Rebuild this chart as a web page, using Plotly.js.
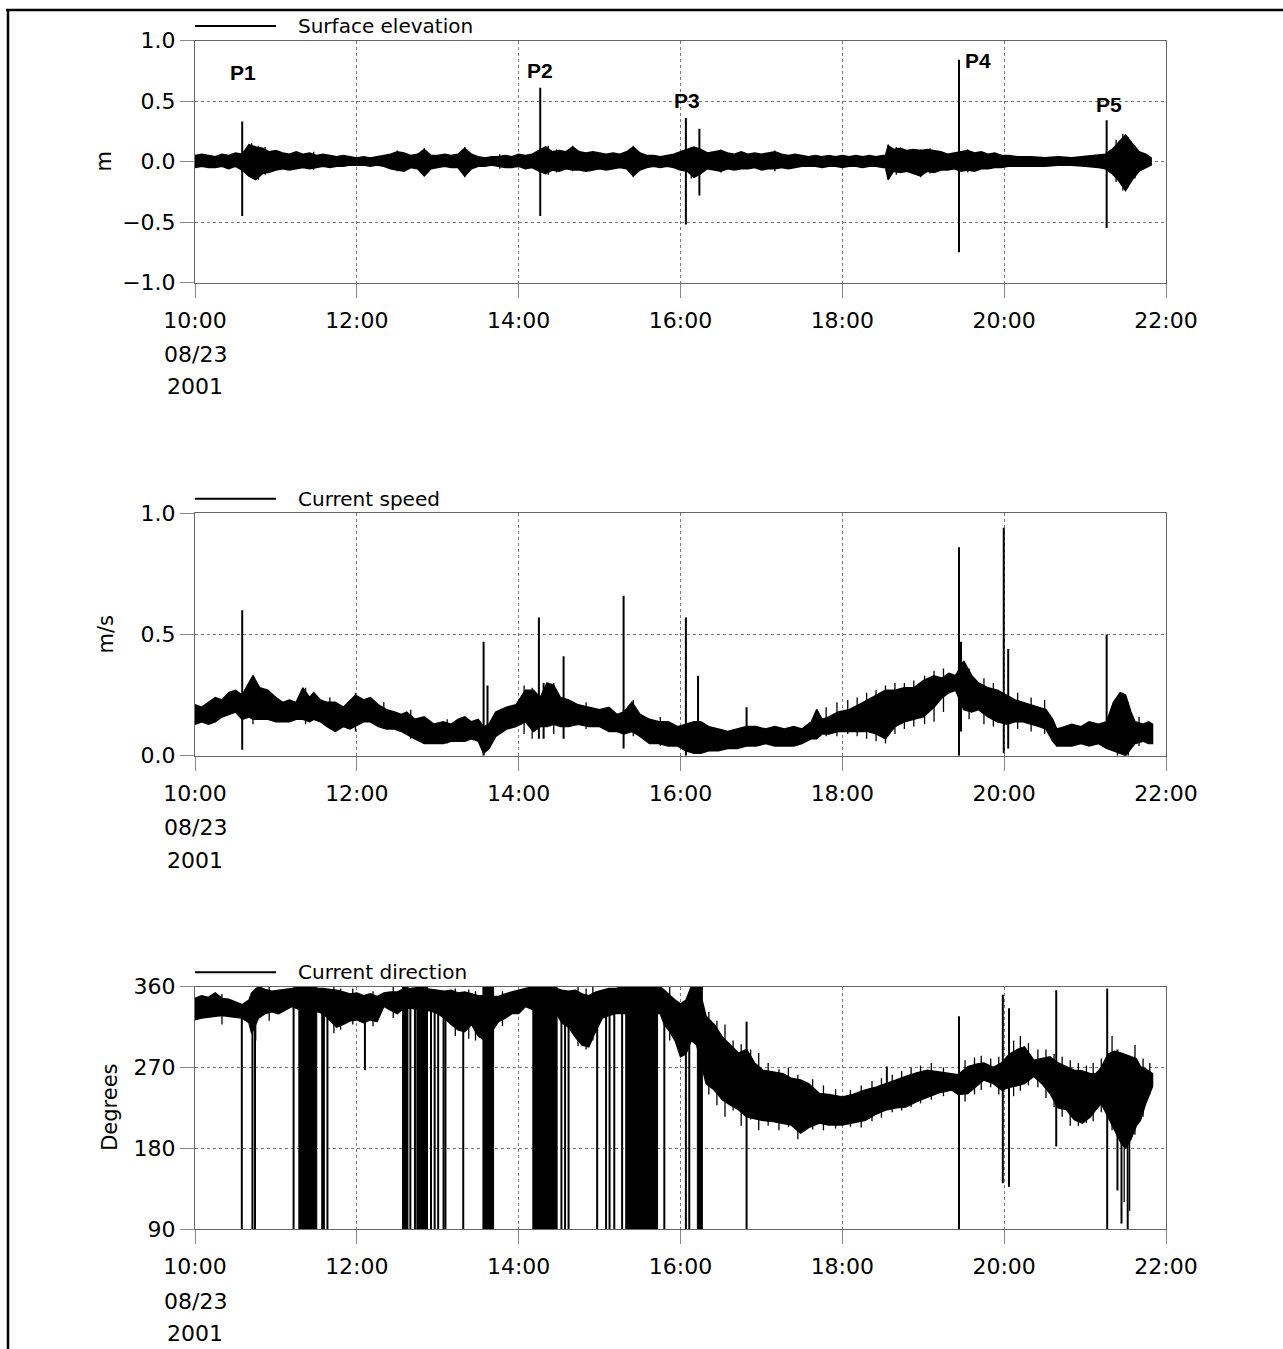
<!DOCTYPE html>
<html><head><meta charset="utf-8">
<script src="https://cdn.plot.ly/plotly-3.0.1.min.js"></script>
<style>html,body{margin:0;padding:0;background:#fff}</style>
</head><body><div id="chart" style="width:1283px;height:1349px"></div>
<script>
// ---- time axis (minutes after 10:00 on 08/23/2001) ----
const tickMinutes = [0, 120, 240, 360, 480, 600, 720];
const tickLabels = ['10:00', '12:00', '14:00', '16:00', '18:00', '20:00', '22:00'];
const dateLine = '08/23';
const yearLine = '2001';

// ---- Surface elevation (m): envelope of the noisy record ----
const elevT = [0,5,10,15,20,25,30,35,40,45, 50,55,60,65,70,75,80,85,90,95,
 100,105,110,115,120,125,130,135,140,145, 150,155,160,165,170,175,180,185,190,195,
 200,205,210,215,220,225,230,235,240,245, 250,255,260,265,270,275,280,285,290,295,
 300,305,310,315,320,325,330,335,340,345, 350,355,360,365,370,375,380,385,390,395,
 400,405,410,415,420,425,430,435,440,445, 450,455,460,465,470,475,480,485,490,495,
 500,505,510,512,514,518,523,528,533,538, 543,548,553,558,563,568,573,578,583,588,
 593,598,603,610,620,630,640,650,660,670, 675,680,685,690,695,700,705,709];
const elevHi = [.05,.06,.05,.04,.06,.05,.07,.06,.14,.12, .11,.08,.09,.07,.06,.08,.06,.07,.05,.06,
 .05,.04,.05,.04,.03,.04,.03,.04,.05,.06, .08,.07,.05,.06,.10,.05,.05,.06,.05,.06,
 .11,.06,.04,.03,.04,.04,.05,.04,.06,.05, .06,.09,.12,.08,.09,.08,.12,.08,.07,.08,
 .07,.06,.07,.06,.08,.12,.07,.05,.05,.04, .05,.06,.08,.10,.12,.10,.07,.08,.09,.07,
 .06,.08,.06,.07,.06,.07,.08,.06,.05,.06, .05,.04,.05,.04,.05,.04,.05,.04,.05,.04,
 .05,.04,.05,.05,.13,.10,.11,.09,.10,.09, .10,.09,.08,.06,.07,.08,.09,.07,.08,.06,
 .07,.05,.05,.04,.04,.03,.04,.03,.04,.05, .06,.10,.16,.22,.15,.08,.06,.03];
const elevLo = [-.05,-.04,-.05,-.05,-.04,-.06,-.04,-.07,-.12,-.15, -.10,-.09,-.07,-.06,-.07,-.06,-.05,-.06,-.05,-.04,
 -.05,-.04,-.04,-.03,-.03,-.03,-.04,-.03,-.04,-.06, -.07,-.08,-.05,-.06,-.12,-.06,-.05,-.04,-.05,-.05,
 -.12,-.06,-.04,-.04,-.03,-.04,-.05,-.05,-.04,-.06, -.05,-.08,-.10,-.07,-.08,-.06,-.07,-.07,-.08,-.07,
 -.06,-.07,-.06,-.05,-.06,-.12,-.07,-.05,-.04,-.05, -.04,-.05,-.07,-.08,-.13,-.10,-.06,-.07,-.08,-.06,
 -.07,-.06,-.06,-.05,-.07,-.06,-.06,-.05,-.06,-.05, -.04,-.04,-.04,-.05,-.04,-.04,-.05,-.04,-.04,-.05,
 -.04,-.04,-.05,-.05,-.15,-.08,-.09,-.08,-.10,-.12, -.08,-.09,-.07,-.07,-.06,-.08,-.07,-.08,-.06,-.06,
 -.05,-.05,-.04,-.04,-.04,-.04,-.03,-.03,-.04,-.05, -.06,-.10,-.16,-.24,-.15,-.08,-.05,-.03];
const elevSpikeT = [35, 256, 364, 374, 566.5, 676];
const elevSpikeLo = [-0.45, -0.45, -0.52, -0.28, -0.75, -0.55];
const elevSpikeHi = [0.33, 0.61, 0.36, 0.27, 0.84, 0.34];
// short noise excursions poking out of the band
const elevNoiseT = [42, 47, 52, 88, 150, 170, 200, 226, 262, 268, 280, 325, 368, 390, 430, 514, 520, 538, 545, 573, 683, 688, 692, 697];
const elevNoiseLo = [-.13,-.15,-.11,-.07,-.08,-.12,-.13,-.06,-.11,-.09,-.08,-.13,-.14,-.09,-.08,-.15,-.11,-.13,-.10,-.09,-.17,-.24,-.21,-.14];
const elevNoiseHi = [.15,.13,.12,.08,.09,.11,.12,.06,.13,.10,.13,.13,.12,.10,.09,.14,.12,.10,.11,.10,.18,.23,.20,.13];
const peakNames = ['P1', 'P2', 'P3', 'P4', 'P5'];
const peakT = [35.6, 255.5, 364.8, 580.6, 677.4];
const peakY = [0.734, 0.751, 0.508, 0.833, 0.475];

// ---- Current speed (m/s) ----
const speedT = [0,5,10,15,20,25,30,35,40,43, 48,54,60,65,70,75,80,85,88,93,
 98,104,110,115,119,125,130,136,142,148, 153,157,163,170,177,184,190,195,200,205,
 210,214,218,223,231,238,245,251,256,261, 266,271,277,284,292,300,307,313,318,324,
 330,337,344,351,358,364,370,375,381,388, 395,402,409,416,423,430,437,444,450,457,
 461,465,470,477,485,492,499,505,512,519, 526,533,540,548,554,559,564,570,576,581,
 588,595,602,608,614,620,626,631,636,639, 645,650,657,663,670,676,681,686,690,694,
 697,703,707,710];
const speedHi = [.21,.20,.22,.24,.23,.26,.27,.25,.30,.33, .28,.27,.24,.22,.23,.22,.28,.24,.26,.23,
 .22,.22,.20,.23,.25,.23,.24,.21,.19,.18, .17,.18,.15,.16,.13,.14,.13,.15,.16,.14,
 .15,.12,.13,.18,.20,.21,.27,.27,.24,.30, .29,.24,.23,.21,.20,.19,.20,.17,.18,.22,
 .17,.15,.14,.14,.12,.13,.14,.14,.12,.11, .10,.11,.12,.12,.11,.12,.11,.12,.11,.14,
 .19,.15,.16,.18,.19,.21,.23,.25,.27,.27, .28,.28,.31,.33,.32,.34,.33,.39,.33,.30,
 .28,.27,.25,.23,.22,.21,.20,.19,.15,.11, .12,.13,.12,.14,.13,.14,.22,.26,.25,.18,
 .14,.13,.14,.13];
const speedLo = [.13,.14,.13,.14,.16,.17,.18,.15,.16,.15, .15,.15,.14,.14,.14,.15,.15,.14,.15,.14,
 .12,.10,.12,.11,.12,.14,.14,.12,.11,.11, .10,.09,.07,.05,.05,.05,.06,.06,.06,.07,
 .06,.01,.03,.08,.11,.12,.14,.10,.12,.12, .13,.12,.12,.13,.12,.12,.10,.10,.09,.10,
 .08,.05,.05,.04,.04,.02,.01,.01,.02,.02, .03,.03,.04,.04,.05,.04,.04,.04,.05,.07,
 .07,.09,.09,.10,.10,.10,.10,.09,.07,.12, .14,.15,.16,.20,.24,.26,.27,.19,.18,.19,
 .16,.14,.13,.14,.14,.13,.12,.11,.06,.04, .04,.04,.05,.04,.05,.03,.02,.01,.00,.03,
 .05,.06,.05,.05];
const speedSpikeT = [35, 214, 216.9, 255, 258.5, 273.3, 317.8, 364, 373, 409, 566.5, 568, 599.7, 603, 676];
const speedSpikeLo = [0.025, 0.00, 0.05, 0.07, 0.07, 0.07, 0.03, 0.00, 0.03, 0.06, 0.00, 0.10, 0.01, 0.03, 0.04];
const speedSpikeHi = [0.60, 0.47, 0.29, 0.57, 0.30, 0.41, 0.66, 0.57, 0.33, 0.20, 0.86, 0.47, 0.94, 0.44, 0.50];
const speedNoiseT = [43, 82, 100, 119, 140, 160, 187, 244, 250, 266, 290, 325, 345, 461,
 468, 476, 484, 491, 498, 505, 512, 519, 526, 533, 541, 548, 555, 574, 585, 592, 610, 620, 630,
 684, 688, 692, 700];
const speedNoiseLo = [.13,.13,.12,.10,.11,.07,.05,.09,.07,.09,.11,.08,.04,.07,
 .08,.08,.09,.08,.07,.06,.05,.09,.11,.12,.13,.14,.18,.15,.13,.12,.11,.10,.09,
 .00,.01,.00,.04];
const speedNoiseHi = [.33,.28,.24,.26,.22,.19,.15,.29,.28,.30,.22,.23,.16,.19,
 .20,.22,.23,.24,.26,.27,.29,.30,.30,.31,.33,.35,.36,.36,.32,.30,.26,.24,.23,
 .24,.26,.22,.16];

// ---- Current direction (degrees) ----
const dirT = [0,5,10,15,20,25,30,35,40,42, 47,52,57,62,67,72,77,84,91,95,
 100,105,110,115,120,125,130,135,140,145, 150,155,160,165,170,175,180,185,190,195,
 200,205,210,215,220,225,230,235,240,245, 250,260,268,272,277,282,287,292,297,302,
 307,312,317,330,345,348,352,356,360,364, 368,372,376,379,385,391,397,403,409,415,
 421,428,436,442,449,455,463,470,480,488, 497,505,513,520,527,535,543,552,561,566,
 573,580,585,592,598,604,610,615,622,628, 634,640,646,652,658,664,668,672,677,682,
 687,690,694,698,701,705,710];
const dirHi = [347,350,348,353,347,346,343,340,345,353, 360,357,355,356,357,358,360,360,358,358,
 357,356,354,352,353,350,352,349,353,354, 354,358,358,359,358,357,356,355,356,353,
 354,352,350,350,349,349,352,354,356,358, 360,360,358,356,355,356,352,350,354,356,
 358,358,360,360,360,356,350,345,341,345, 360,360,345,327,318,304,295,286,290,275,
 267,265,263,258,256,252,241,240,237,240, 245,248,252,256,260,264,267,265,263,262,
 271,274,275,270,275,285,290,293,278,280, 282,275,271,267,266,263,263,270,285,288,
 286,284,282,280,271,268,263];
const dirLo = [323,325,326,327,328,327,326,325,320,308, 325,330,332,330,334,338,335,335,332,330,
 322,315,318,322,323,320,323,321,338,334, 330,336,336,335,334,333,330,325,318,312,
 310,318,305,300,310,321,325,330,330,338, 335,335,330,320,315,304,295,293,310,325,
 328,330,330,330,330,318,310,300,282,285, 300,295,270,252,245,234,228,223,215,213,
 211,210,208,206,197,203,208,206,206,208, 211,218,223,225,226,232,237,242,245,240,
 241,250,256,252,245,248,250,252,260,252, 241,225,223,212,208,215,223,230,215,200,
 185,180,190,205,211,230,249];
const dirSpikeT = [34.7, 42.6, 44.5, 73.1, 94.3, 95.6, 98.2, 126, 159.7, 163.1,
 175, 177.7, 180.3, 184.3, 185.7, 198.9, 271.7, 274.4, 277, 298.2,
 304.8, 307.4, 310.9, 316.7, 348, 364, 366.5, 409, 513, 566.5,
 599, 603.6, 638.6, 676.4, 684, 687, 691.6];
const dirSpikeLo = [90,90,90,90,90,90,90,267,90,90, 90,90,90,90,90,90,90,90,90,90,
 90,90,90,90,90,90,90,90,223,90, 141,137,182,90,133,96,90];
const dirSpikeHi = [335,330,330,345,345,345,345,340,350,350, 350,350,350,345,345,340,350,350,350,340,
 345,345,345,350,355,330,330,321,271,327, 351,336,356,358,290,280,270];
const dirNoiseT = [20, 45, 55, 103, 108, 117, 132, 147, 193, 203, 208, 228, 284, 290, 295, 352,
 381, 387, 393, 399, 405, 412, 418, 425, 433, 440, 447, 458, 466, 475, 486, 494, 502, 509, 517,
 524, 531, 538, 546, 555, 571, 578, 583, 590, 596, 607, 612, 618, 625, 631, 637, 643, 649, 655,
 661, 666, 672, 680, 689, 693, 697, 703, 708];
const dirNoiseLo = [318,300,322,308,312,318,316,325,305,302,300,316,294,290,300,300,
 240,228,215,222,205,212,200,205,200,204,190,201,200,202,204,203,210,214,220,
 222,226,230,234,238,232,240,245,248,240,238,244,250,248,236,226,215,205,205,
 208,210,220,200,120,110,195,215,240];
const dirNoiseHi = [352,358,360,360,358,358,355,360,358,357,355,355,360,358,360,360,
 332,322,318,300,296,290,286,275,268,270,262,257,250,246,245,250,255,258,262,
 266,270,272,275,270,278,281,283,280,282,300,305,297,290,290,285,282,278,275,
 272,275,280,305,280,270,295,280,275];
const dirBlockStart = [77.0, 153.9, 164.5, 213.5, 250.5, 319.4, 372.5];
const dirBlockEnd = [90.3, 157.9, 172.4, 221.4, 268.5, 343.0, 376.2];

// ---- builders ----
function bandTrace(t, hi, lo, xa, ya) {
  const rt = t.slice().reverse(), rl = lo.slice().reverse();
  return {x: t.concat(rt), y: hi.concat(rl), xaxis: xa, yaxis: ya, mode: 'lines',
    fill: 'toself', fillcolor: '#000', line: {color: '#000', width: 1.5}, hoverinfo: 'skip'};
}
function spikeTrace(t, lo, hi, xa, ya, w) {
  const x = [], y = [];
  for (let i = 0; i < t.length; i++) { x.push(t[i], t[i], null); y.push(lo[i], hi[i], null); }
  return {x, y, xaxis: xa, yaxis: ya, mode: 'lines', line: {color: '#000', width: w}, hoverinfo: 'skip'};
}
function blockTrace(s, e, lo, hi, xa, ya) {
  const x = [], y = [];
  for (let i = 0; i < s.length; i++) {
    x.push(s[i], s[i], e[i], e[i], s[i], null);
    y.push(lo, hi, hi, lo, lo, null);
  }
  return {x, y, xaxis: xa, yaxis: ya, mode: 'lines', fill: 'toself', fillcolor: '#000',
    line: {color: '#000', width: 1}, hoverinfo: 'skip'};
}

const data = [
  bandTrace(elevT, elevHi, elevLo, 'x', 'y'),
  spikeTrace(elevNoiseT, elevNoiseLo, elevNoiseHi, 'x', 'y', 1.3),
  spikeTrace(elevSpikeT, elevSpikeLo, elevSpikeHi, 'x', 'y', 2),
  bandTrace(speedT, speedHi, speedLo, 'x2', 'y2'),
  spikeTrace(speedNoiseT, speedNoiseLo, speedNoiseHi, 'x2', 'y2', 1.3),
  spikeTrace(speedSpikeT, speedSpikeLo, speedSpikeHi, 'x2', 'y2', 2),
  bandTrace(dirT, dirHi, dirLo, 'x3', 'y3'),
  blockTrace(dirBlockStart, dirBlockEnd, 90, 360, 'x3', 'y3'),
  spikeTrace(dirNoiseT, dirNoiseLo, dirNoiseHi, 'x3', 'y3', 1.3),
  spikeTrace(dirSpikeT, dirSpikeLo, dirSpikeHi, 'x3', 'y3', 2)
];

const W = 1283, H = 1349;
const px = v => v / W;
const py = v => 1 - v / H;
const FONT = 'DejaVu Sans';

function xAxis(anchor) {
  return {domain: [px(195), px(1166)], range: [0, 720], anchor: anchor,
    tickmode: 'array', tickvals: tickMinutes, ticktext: tickLabels,
    showgrid: true, gridcolor: '#777', griddash: 'dot', gridwidth: 1,
    showline: true, linecolor: '#666', linewidth: 1, mirror: true,
    ticks: 'outside', ticklen: 14, tickcolor: '#888', tickwidth: 1, ticklabelstandoff: 4,
    tickfont: {family: FONT, size: 22, color: '#000'}, zeroline: false};
}
function yAxis(anchor, top, bottom, range, vals, text) {
  return {domain: [py(bottom), py(top)], range: range, anchor: anchor,
    tickmode: 'array', tickvals: vals, ticktext: text,
    showgrid: true, gridcolor: '#777', griddash: 'dot', gridwidth: 1,
    showline: true, linecolor: '#666', linewidth: 1, mirror: true,
    ticks: 'outside', ticklen: 14, tickcolor: '#888', tickwidth: 1,
    tickfont: {family: FONT, size: 22, color: '#000'}, zeroline: false};
}

const panels = [
  {top: 40.5, bottom: 282.5, name: 'Surface elevation', unit: 'm', unitX: 104, xa: 'x'},
  {top: 513.3, bottom: 755.7, name: 'Current speed', unit: 'm/s', unitX: 105, xa: 'x2'},
  {top: 986.7, bottom: 1229, name: 'Current direction', unit: 'Degrees', unitX: 110, xa: 'x3'}
];

const annotations = [], shapes = [];
panels.forEach(p => {
  const ly = p.top - 14.5;
  shapes.push({type: 'line', xref: 'paper', yref: 'paper', x0: px(195), x1: px(276), y0: py(ly), y1: py(ly),
    line: {color: '#000', width: 2}});
  annotations.push({xref: 'paper', yref: 'paper', x: px(296), y: py(ly), xanchor: 'left', yanchor: 'middle',
    text: p.name, showarrow: false, font: {family: FONT, size: 20, color: '#000'}});
  annotations.push({xref: 'paper', yref: 'paper', x: px(p.unitX), y: py((p.top + p.bottom) / 2),
    xanchor: 'center', yanchor: 'middle', textangle: -90, text: p.unit, showarrow: false,
    font: {family: FONT, size: 21, color: '#000'}});
  annotations.push({xref: p.xa, yref: 'paper', x: 0, y: py(p.bottom + 72), xanchor: 'center', yanchor: 'middle',
    text: dateLine, showarrow: false, font: {family: FONT, size: 22, color: '#000'}});
  annotations.push({xref: p.xa, yref: 'paper', x: 0, y: py(p.bottom + 104.5), xanchor: 'center', yanchor: 'middle',
    text: yearLine, showarrow: false, font: {family: FONT, size: 22, color: '#000'}});
});
peakNames.forEach((n, i) => {
  annotations.push({xref: 'x', yref: 'y', x: peakT[i], y: peakY[i], xanchor: 'center', yanchor: 'middle',
    text: '<b>' + n + '</b>', showarrow: false, font: {family: 'Liberation Sans, Arial', size: 21, color: '#000'}});
});
// outer frame
shapes.push({type: 'line', xref: 'paper', yref: 'paper', x0: px(6), x1: 1, y0: py(10), y1: py(10), line: {color: '#000', width: 2.5}});
shapes.push({type: 'line', xref: 'paper', yref: 'paper', x0: px(8), x1: px(8), y0: py(10), y1: 0, line: {color: '#000', width: 2.5}});

const layout = {
  width: W, height: H, margin: {l: 0, r: 0, t: 0, b: 0},
  paper_bgcolor: '#fff', plot_bgcolor: '#fff', showlegend: false,
  xaxis: xAxis('y'), xaxis2: xAxis('y2'), xaxis3: xAxis('y3'),
  yaxis: yAxis('x', 40.5, 282.5, [-1, 1], [-1, -0.5, 0, 0.5, 1], ['\u22121.0', '\u22120.5', '0.0', '0.5', '1.0']),
  yaxis2: yAxis('x2', 513.3, 755.7, [0, 1], [0, 0.5, 1], ['0.0', '0.5', '1.0']),
  yaxis3: yAxis('x3', 986.7, 1229, [90, 360], [90, 180, 270, 360], ['90', '180', '270', '360']),
  annotations: annotations, shapes: shapes
};

Plotly.newPlot('chart', data, layout, {staticPlot: true});
</script>
</body></html>
